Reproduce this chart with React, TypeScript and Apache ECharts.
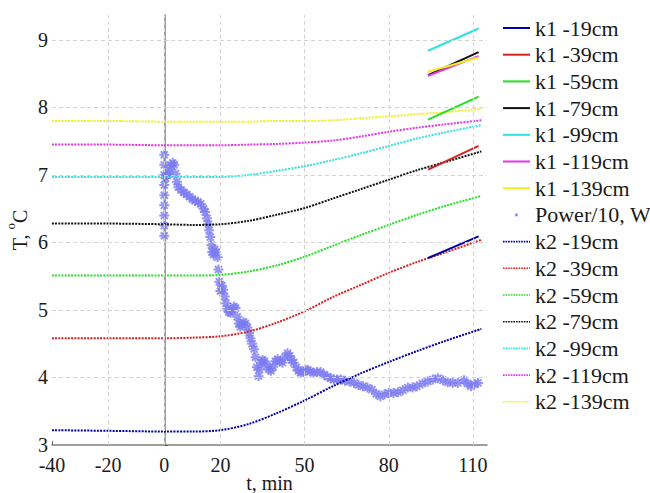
import React, { useEffect, useRef } from "react";
import * as echarts from "echarts";

const X_TICKS = [-40, -20, 0, 20, 50, 80, 110];
const X_GRID = [-20, 0, 20, 50, 80, 110];
const Y_TICKS = [3, 4, 5, 6, 7, 8, 9];
const Y_GRID = [4, 5, 6, 7, 8, 9];

const DEPTHS = ["-19cm", "-39cm", "-59cm", "-79cm", "-99cm", "-119cm", "-139cm"];
const COLORS = ["#0000a8", "#d42020", "#22e022", "#111111", "#33e0e0", "#e633e6", "#f0f020"];

const K2_T = [-40, -20, 0, 10, 20, 30, 40, 50, 60, 70, 80, 90, 100, 113];
const K2_19 = [3.22, 3.21, 3.2, 3.2, 3.22, 3.31, 3.47, 3.66, 3.87, 4.06, 4.23, 4.39, 4.54, 4.72];
const K2_39 = [4.58, 4.58, 4.58, 4.59, 4.61, 4.68, 4.81, 4.98, 5.19, 5.37, 5.55, 5.71, 5.85, 6.04];
const K2_59 = [5.51, 5.51, 5.51, 5.51, 5.52, 5.57, 5.66, 5.79, 5.95, 6.11, 6.26, 6.41, 6.54, 6.69];
const K2_79 = [6.28, 6.28, 6.27, 6.26, 6.27, 6.32, 6.41, 6.51, 6.65, 6.79, 6.93, 7.07, 7.19, 7.35];
const K2_99 = [6.97, 6.97, 6.97, 6.97, 6.97, 7.0, 7.06, 7.13, 7.22, 7.32, 7.43, 7.54, 7.63, 7.74];
const K2_119 = [7.45, 7.45, 7.44, 7.44, 7.44, 7.45, 7.46, 7.48, 7.51, 7.57, 7.64, 7.7, 7.75, 7.81];
const K2_139 = [7.8, 7.8, 7.79, 7.79, 7.79, 7.79, 7.8, 7.8, 7.81, 7.84, 7.87, 7.9, 7.93, 7.98];
const K2 = [K2_19, K2_39, K2_59, K2_79, K2_99, K2_119, K2_139];

const K1_T = [94, 112];
const K1_19 = [5.77, 6.09];
const K1_39 = [7.08, 7.43];
const K1_59 = [7.82, 8.16];
const K1_79 = [8.48, 8.82];
const K1_99 = [8.84, 9.17];
const K1_119 = [8.47, 8.76];
const K1_139 = [8.53, 8.74];
const K1 = [K1_19, K1_39, K1_59, K1_79, K1_99, K1_119, K1_139];

const POWER_T = [
  0, 0, 0, 0, 0, 0, 0, 0, 0, 0.5, 1, 1.5, 2, 2.5, 3, 3.5, 4, 4.5, 5, 6, 7, 8, 9, 10, 11, 12, 13, 14,
  14.6, 15.2, 15.7, 16, 16.4, 16.8, 17.1, 17.5, 18, 18.5, 19, 19.3, 19.6, 20, 20.5, 21, 21.5, 22,
  22.5, 23, 23.6, 24.2, 24.8, 25.4, 26, 26.6, 27.1, 27.6, 28.2, 28.9, 29.6, 30.2, 30.7, 31.3, 32,
  32.5, 33, 33.6, 34, 34.5, 35, 35.7, 36.5, 37.2, 38, 38.8, 39.6, 40.4, 41.2, 42.1, 43, 43.9, 44.7,
  45.4, 46.1, 47, 47.8, 48.6, 49.5, 50.3, 51.1, 52, 53.2, 54.4, 55.7, 57, 58.2, 59.3, 60.4, 61.6,
  62.9, 64.4, 66, 67.6, 69.2, 70.8, 72.4, 74, 75.5, 77, 78.5, 80, 81.7, 83.3, 85, 86.8, 88.5, 90,
  92, 93.9, 95.7, 97.5, 99.3, 101, 102.8, 104.6, 106.8, 108, 109.3, 110.5, 111.8,
];
const POWER_V = [
  7.3, 7.15, 7.0, 6.85, 6.7, 6.55, 6.4, 6.25, 6.1, 6.95, 7.0, 7.02, 7.08, 7.14, 7.18, 7.15, 7.02,
  6.9, 6.82, 6.78, 6.74, 6.71, 6.68, 6.64, 6.62, 6.6, 6.57, 6.5, 6.45, 6.36, 6.27, 6.18, 6.08, 5.96,
  5.86, 5.82, 5.9, 5.85, 5.78, 5.6, 5.42, 5.28, 5.36, 5.3, 5.2, 5.1, 5.02, 4.97, 4.96, 5.0, 5.05,
  5.03, 4.9, 4.8, 4.75, 4.78, 4.82, 4.8, 4.74, 4.66, 4.58, 4.5, 4.42, 4.3, 4.15, 4.02, 4.12, 4.22,
  4.26, 4.24, 4.18, 4.12, 4.1, 4.16, 4.24, 4.27, 4.24, 4.22, 4.3, 4.36, 4.32, 4.26, 4.22, 4.15, 4.1,
  4.07, 4.08, 4.11, 4.11, 4.09, 4.07, 4.08, 4.08, 4.04, 4.01, 3.99, 3.97, 3.97, 3.97, 3.95, 3.94,
  3.92, 3.89, 3.87, 3.85, 3.82, 3.76, 3.72, 3.75, 3.77, 3.77, 3.78, 3.81, 3.85, 3.85, 3.87, 3.91,
  3.94, 3.97, 3.99, 3.96, 3.93, 3.92, 3.92, 3.96, 3.91, 3.87, 3.9, 3.92,
];

const FONT = "Liberation Serif";
const TEXT = "#1a1a1a";
const POWER_COLOR = "#7b7bf0";
const STAR = "path://M0 5L10 5M5 0L5 10M1.5 1.5L8.5 8.5M8.5 1.5L1.5 8.5";
const STAR_ICON = "path://M0 0M24 24M9 12L15 12M12 9L12 15M10 10L14 14M14 10L10 14";
const LINE_ICON = "path://M0 0M27 14M0 7L27 7";
const DOT: number[] = [2, 1.2];

const txt = (size: number) => ({ fontFamily: FONT, fontSize: size, color: TEXT });

export default function App() {
  const ref = useRef<HTMLDivElement>(null);
  useEffect(() => {
    if (!ref.current) return;
    const chart = echarts.init(ref.current, undefined, { renderer: "svg" });
    const gridStyle = { color: "#d4d4d4", type: [4, 3] as number[], width: 1 };
    const series: any[] = [];
    series.push({
      name: "Power/10, W",
      type: "scatter",
      data: POWER_T.map((t, i) => [t, POWER_V[i]]),
      symbol: STAR,
      symbolSize: 10,
      itemStyle: { color: POWER_COLOR, borderColor: POWER_COLOR, borderWidth: 2 },
      markLine: {
        silent: true,
        symbol: "none",
        label: { show: false },
        lineStyle: gridStyle,
        data: [
          ...X_GRID.map((x) => ({ xAxis: x })),
          ...Y_GRID.map((y) => ({ yAxis: y })),
        ],
      },
    });
    K2.forEach((vals, i) => {
      series.push({
        name: "k2 " + DEPTHS[i],
        type: "line",
        data: K2_T.map((t, j) => [t, vals[j]]),
        smooth: 0.3,
        symbol: "none",
        lineStyle: { color: COLORS[i], width: 2, type: DOT },
        itemStyle: { color: COLORS[i] },
      });
    });
    K1.forEach((vals, i) => {
      series.push({
        name: "k1 " + DEPTHS[i],
        type: "line",
        data: K1_T.map((t, j) => [t, vals[j]]),
        symbol: "none",
        lineStyle: { color: COLORS[i], width: 2, type: "solid" },
        itemStyle: { color: COLORS[i] },
      });
    });
    const lineIcon = (name: string, color: string, dotted: boolean) => ({
      name,
      icon: LINE_ICON,
      itemStyle: {
        color: "transparent",
        borderColor: color,
        borderWidth: dotted ? 1.6 : 2,
        borderType: dotted ? [1.6, 1] : "solid",
      },
    });
    const legendData: any[] = [
      ...DEPTHS.map((d, i) => lineIcon("k1 " + d, COLORS[i], false)),
      {
        name: "Power/10, W",
        icon: STAR_ICON,
        itemStyle: { color: POWER_COLOR, borderColor: POWER_COLOR, borderWidth: 1 },
      },
      ...DEPTHS.map((d, i) => lineIcon("k2 " + d, COLORS[i], true)),
    ];
    chart.setOption({
      animation: false,
      backgroundColor: "#ffffff",
      textStyle: { fontFamily: FONT },
      grid: { left: 52, right: 163, top: 15, bottom: 48, containLabel: false, outerBoundsMode: "none" },
      legend: {
        data: legendData,
        orient: "vertical",
        left: 497,
        top: 12,
        itemWidth: 27,
        itemHeight: 14,
        itemGap: 4.7,
        textStyle: { ...txt(22), lineHeight: 20, width: 130, overflow: "none" },
        selectedMode: false,
      },
      xAxis: {
        type: "value",
        min: -40,
        max: 115,
        interval: 10,
        name: "t, min",
        nameLocation: "middle",
        nameGap: 28,
        nameMoveOverlap: false,
        nameTextStyle: txt(20),
        axisLine: { show: true, lineStyle: { color: "#808080", width: 1.5 } },
        axisTick: { show: true, inside: true, length: 4, customValues: X_TICKS, lineStyle: { color: "#606060" } },
        axisLabel: {
          customValues: X_TICKS,
          margin: 10,
          ...txt(20),
          formatter: (v: number) => (X_TICKS.includes(v) ? String(v) : ""),
        },
        splitLine: { show: false },
      },
      yAxis: {
        type: "value",
        min: 3,
        max: 9.37,
        interval: 1,
        name: "{a|T, }{sup|o}{a|C}",
        nameLocation: "middle",
        nameGap: 22,
        nameMoveOverlap: false,
        nameTextStyle: {
          ...txt(20),
          rich: {
            a: { ...txt(20), lineHeight: 26, verticalAlign: "bottom" },
            sup: { ...txt(13), verticalAlign: "top" },
          },
        },
        axisLine: { show: true, lineStyle: { color: "#808080", width: 1.5 } },
        axisTick: { show: true, inside: true, length: 4, customValues: Y_TICKS, lineStyle: { color: "#606060" } },
        axisLabel: {
          customValues: Y_TICKS,
          margin: 4,
          ...txt(20),
          formatter: (v: number) => (Y_TICKS.includes(v) ? String(v) : ""),
        },
        splitLine: { show: false },
      },
      series,
    });
    return () => chart.dispose();
  }, []);
  return (
    <div
      ref={ref}
      style={{ position: "fixed", left: 0, top: 0, width: 650, height: 493, background: "#fff" }}
    />
  );
}
